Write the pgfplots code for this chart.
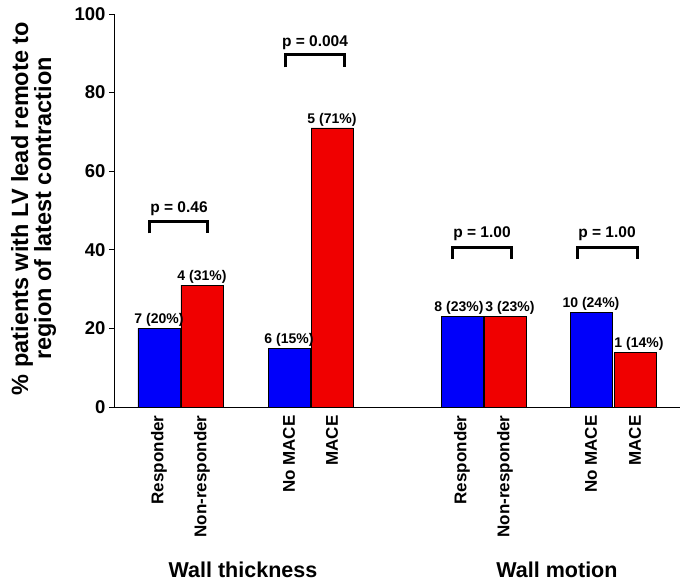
\documentclass[border=0pt]{standalone}
\usepackage{pgfplots}
\pgfplotsset{compat=1.18}
\usepackage{fontspec}
\setmainfont{Liberation Sans}
\definecolor{barblue}{RGB}{0,0,250}
\definecolor{barred}{RGB}{240,0,0}
\begin{document}
\begin{tikzpicture}
\path[use as bounding box] (-114pt,-178pt) rectangle (571pt,407pt);
\begin{axis}[
  scale only axis,
  width=566pt, height=393pt,
  xmin=114, xmax=680,
  ymin=0, ymax=100,
  axis x line*=bottom, axis y line*=left,
  axis line style={black, line width=0.8pt},
  clip=false,
  xtick={159,202,289,332,462,505,591,635},
  xticklabels={Responder,Non-responder,No MACE,MACE,Responder,Non-responder,No MACE,MACE},
  x tick style={draw=none},
  xticklabel style={rotate=90, anchor=east, font=\bfseries\fontsize{17}{17}\selectfont},
  ytick={0,20,40,60,80,100},
  tick align=outside,
  major tick length=5pt,
  y tick style={black, line width=0.8pt},
  yticklabel style={font=\bfseries\fontsize{18.5}{18.5}\selectfont},
  /pgf/number format/assume math mode=true,
  every axis y label/.style={at={(axis description cs:-0.142,0.505)}, rotate=90, anchor=center, align=center, font=\bfseries\fontsize{23.5}{23}\selectfont},
  ylabel={\% patients with LV lead remote to\\region of latest contraction},
  every node near coord/.append style={font=\bfseries\fontsize{14}{14}\selectfont, anchor=south, inner sep=1.5pt, black},
]
% Wall thickness
\addplot[ybar, bar width=42, bar shift=0pt, fill=barblue, draw=black, line width=0.6pt, nodes near coords, point meta=explicit symbolic]
  coordinates {(159,20) [7 (20\%)] (289,15) [6 (15\%)]};
\addplot[ybar, bar width=42, bar shift=0pt, fill=barred, draw=black, line width=0.6pt, nodes near coords, point meta=explicit symbolic]
  coordinates {(202,31) [4 (31\%)] (332,71) [5 (71\%)]};
% Wall motion
\addplot[ybar, bar width=42, bar shift=0pt, fill=barblue, draw=black, line width=0.6pt, nodes near coords, point meta=explicit symbolic, every node near coord/.append style={xshift=-3pt}]
  coordinates {(462,23) [8 (23\%)]};
\addplot[ybar, bar width=42, bar shift=0pt, fill=barred, draw=black, line width=0.6pt, nodes near coords, point meta=explicit symbolic, every node near coord/.append style={xshift=5pt}]
  coordinates {(505,23) [3 (23\%)]};
\addplot[ybar, bar width=42, bar shift=0pt, fill=barblue, draw=black, line width=0.6pt, nodes near coords, point meta=explicit symbolic]
  coordinates {(591,24) [10 (24\%)]};
\addplot[ybar, bar width=42, bar shift=0pt, fill=barred, draw=black, line width=0.6pt, nodes near coords, point meta=explicit symbolic, every node near coord/.append style={xshift=4pt}]
  coordinates {(635,14) [1 (14\%)]};
% significance brackets
\addplot[black, line width=3pt, no marks] coordinates {(150,44.2) (150,47.1) (208,47.1) (208,44.2)};
\addplot[black, line width=3pt, no marks] coordinates {(285,86.4) (285,89.6) (344,89.6) (344,86.4)};
\addplot[black, line width=3pt, no marks] coordinates {(452,37.6) (452,40.7) (511,40.7) (511,37.6)};
\addplot[black, line width=3pt, no marks] coordinates {(577,37.6) (577,40.7) (637,40.7) (637,37.6)};
\node[anchor=base, font=\bfseries\fontsize{15.5}{15.5}\selectfont, inner sep=0pt] at (axis cs:179,49.6) {p = 0.46};
\node[anchor=base, font=\bfseries\fontsize{15.5}{15.5}\selectfont, inner sep=0pt] at (axis cs:315,91.8) {p = 0.004};
\node[anchor=base, font=\bfseries\fontsize{15.5}{15.5}\selectfont, inner sep=0pt] at (axis cs:482,43.2) {p = 1.00};
\node[anchor=base, font=\bfseries\fontsize{15.5}{15.5}\selectfont, inner sep=0pt] at (axis cs:607,43.2) {p = 1.00};
\node[anchor=base, font=\bfseries\fontsize{21.5}{21.5}\selectfont, inner sep=0pt] at (axis cs:243,-43.5) {Wall thickness};
\node[anchor=base, font=\bfseries\fontsize{21.5}{21.5}\selectfont, inner sep=0pt] at (axis cs:557,-43.5) {Wall motion};
\end{axis}
\end{tikzpicture}
\end{document}
